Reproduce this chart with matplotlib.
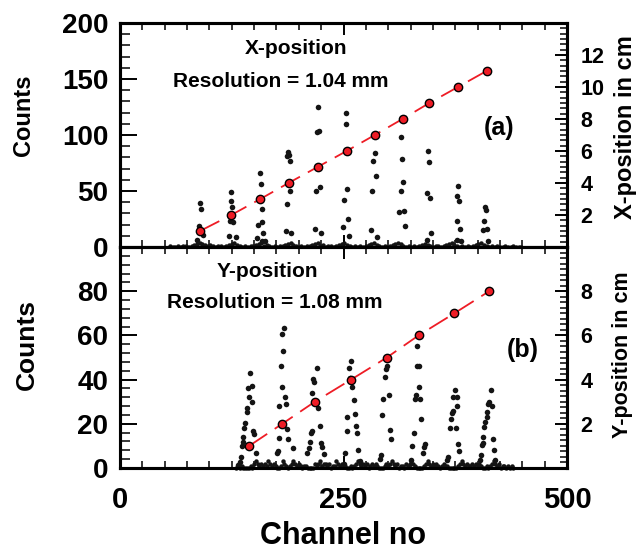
import numpy as np
import matplotlib
matplotlib.use("Agg")
import matplotlib.pyplot as plt
from matplotlib.ticker import MultipleLocator, FixedLocator

plt.rcParams['font.family'] = ['Liberation Sans', 'DejaVu Sans']
plt.rcParams['font.weight'] = 'bold'
plt.rcParams['axes.labelweight'] = 'bold'

# (a) X-position scan: dots of the eleven peaks (channel, counts)
x_ch = [86.5, 88.7, 89.5, 91.0, 93.0,
        121.9, 122.9, 123.8, 124.5, 125.6, 126.7, 129.8,
        153.6, 154.4, 156.6, 157.4, 158.5, 158.8, 159.2, 160.3, 162.2,
        185.3, 186.5, 187.1, 187.9, 189.0, 189.8, 190.5, 191.3,
        218.1, 219.2, 220.0, 221.1, 222.3, 223.7, 224.5,
        249.8, 250.9, 252.8, 252.8, 254.3, 255.4, 256.5,
        280.8, 282.2, 282.7, 285.2, 286.0, 287.1,
        312.4, 314.0, 314.7, 315.8, 316.9, 318.0, 318.8,
        343.1, 343.7, 344.9, 346.0, 346.8, 347.9,
        376.6, 376.6, 377.0, 378.4, 379.5, 380.3, 381.4,
        406.4, 407.2, 408.0, 409.1, 410.2, 411.6]
x_cnt = [6.3, 19, 39.6, 34.2, 11,
         9.8, 23.2, 41.3, 49.4, 36, 22, 9.2,
         8, 20, 66.3, 56, 34, 5, 22, 12.2, 5,
         14.3, 38, 81, 84.5, 82, 77, 50, 12.2,
         16.3, 50.3, 102.4, 124.7, 103.6, 53.3, 12.2,
         18.1, 42.2, 119.4, 109.6, 52, 25.3, 9.8,
         15.2, 50.3, 77, 84.2, 63.4, 9.2,
         31.3, 50.3, 98.5, 78.3, 58.3, 32.4, 19,
         6.3, 48.5, 85.7, 75.6, 44, 12.2,
         6, 23.2, 45.3, 54.5, 41.3, 16, 5,
         15.2, 23.2, 35.4, 33, 16, 5]
# baseline counts, one digit every 3 channels from channel 56
x_base = ("1001011012" "3432121011" "0123421010" "1123412101"
          "0112342101" "0112341201" "1012342101" "0101234210"
          "1012343101" "0101232101" "1012342101" "0101234210"
          "101001001000")
x_cal_ch = [89.5, 124.5, 157, 188.5, 221, 253.5, 285, 316, 346, 378, 410]
x_cal_cm = [1, 2, 3, 4, 5, 6, 7, 8, 9, 10, 11]

# (b) Y-position scan
y_ch = [132.3, 134.2, 135.3, 136.5, 137.2, 137.9, 139.0, 140.2, 141.7, 142.4,
        143.5, 144.3, 145.4, 147.3, 147.7, 149.1, 149.9, 152.1,
        175.6, 176.4, 177.9, 178.2, 179.8, 180.9, 181.5, 182.7, 183.7, 184.6,
        185.3, 186.5, 188.3, 193.2,
        209.5, 211.4, 212.5, 213.3, 214.4, 215.1, 216.2, 217.3, 220.0, 221.8,
        223.4, 224.8, 226.3, 228.5,
        250.0, 251.7, 253.6, 253.6, 256.5, 257.3, 258.0, 259.5, 261.7, 262.9,
        264.0, 264.8, 266.5, 268.0,
        290.8, 292.0, 293.0, 293.8, 296.4, 297.5, 299.0, 301.2, 302.0, 302.8,
        325.2, 326.3, 328.9, 330.0, 331.1, 331.9, 332.6, 334.5, 334.8, 335.6,
        336.4, 338.6, 340.0, 341.2,
        366.1, 367.2, 369.1, 369.9, 371.0, 372.1, 372.8, 374.7, 375.5, 376.6,
        377.3, 378.4, 379.5,
        402.5, 403.5, 404.6, 405.7, 406.4, 407.5, 408.3, 410.2, 410.9, 412.0,
        413.1, 414.7, 415.9, 416.9, 418.3, 419.5]
y_cnt = [1.4, 2.9, 5.1, 10, 11.9, 13.9, 18, 20.2, 27, 25.2,
         36.3, 32.3, 43.1, 37.1, 30, 16.9, 15.4, 6.9,
         6.7, 7.7, 13.4, 28, 46.2, 36.8, 60.5, 53, 63.2, 32,
         28.8, 17.5, 13, 8.9,
         6.6, 8.9, 11.9, 15.7, 16.9, 34.1, 40.1, 39, 45.1, 27,
         19, 11.2, 9.6, 6.3,
         2, 6.6, 16.9, 22.9, 45.1, 40.6, 48.4, 36.8, 30.8, 24.4,
         19.1, 15.7, 8.1, 3,
         3.9, 5.9, 24, 31.1, 41.3, 44.7, 46.2, 33, 17.2, 13,
         3.6, 10, 16, 31.1, 33, 46.2, 55.2, 46.2, 36.8, 31.1,
         22, 6.9, 9.4, 10.9,
         3.6, 5.1, 18, 22, 25, 25.9, 32, 35.3, 18, 28,
         32, 10.9, 7.8,
         3.6, 5.9, 10.4, 11.2, 14.2, 18.7, 21, 22.9, 25.5, 29,
         30, 35.3, 28, 13, 8.1, 3.6]
# baseline counts, one digit every 2 channels from channel 130
y_base = ("0101000010" "2321212132" "1210013210" "1232121011"
          "0000212312" "2120113212" "1100101232" "1212012121"
          "0001212321" "2011021232" "1000012321" "2121012110"
          "0000123212" "1121212100" "1012321201" "101010")
y_cal_ch = [144.5, 181.5, 218, 258.5, 298.5, 334, 374, 413]
y_cal_cm = [1, 2, 3, 4, 5, 6, 7, 8]

DOT = '#141414'
RED = '#ee1c25'


def style_panel(ax, ymax, ymajor, yminor):
    ax.set_xlim(0, 500)
    ax.set_ylim(0, ymax)
    for s in ax.spines.values():
        s.set_linewidth(2.2)
    ax.xaxis.set_major_locator(MultipleLocator(250))
    ax.xaxis.set_minor_locator(MultipleLocator(25))
    ax.yaxis.set_major_locator(FixedLocator(ymajor))
    ax.yaxis.set_minor_locator(MultipleLocator(yminor))
    ax.tick_params(axis='x', which='both', direction='in', top=True,
                   bottom=True, labelsize=21, pad=13)
    ax.tick_params(axis='x', which='major', length=8.5, width=1.4)
    ax.tick_params(axis='x', which='minor', length=5, width=1.1)
    ax.tick_params(axis='y', which='both', direction='in', left=True,
                   right=False, labelsize=20, pad=8.5)
    ax.tick_params(axis='y', which='major', length=12, width=1.4)
    ax.tick_params(axis='y', which='minor', length=7, width=1.1)


def style_right(axr, ymax, ymajor, yminor, size):
    axr.set_ylim(0, ymax)
    for s in axr.spines.values():
        s.set_linewidth(2.2)
    axr.yaxis.set_major_locator(FixedLocator(ymajor))
    axr.yaxis.set_minor_locator(MultipleLocator(yminor))
    axr.tick_params(axis='y', which='both', direction='in', right=True,
                    labelsize=size, pad=9.5)
    axr.tick_params(axis='y', which='major', length=8.5, width=1.4)
    axr.tick_params(axis='y', which='minor', length=5, width=1.1)


def draw_panel(ax, axr, ch, cnt, base, base_start, base_step, cal_ch, cal_cm):
    bch = base_start + base_step * np.arange(len(base))
    bcnt = [int(c) for c in base]
    ax.plot(bch, bcnt, 'o', color=DOT, ms=3.2, mec='none', clip_on=False)
    ax.plot(ch, cnt, 'o', color=DOT, ms=4.0, mec='none', clip_on=False)
    axr.plot(cal_ch, cal_cm, color=RED, lw=1.3, dashes=(12, 5))
    axr.plot(cal_ch, cal_cm, 'o', mfc=RED, mec='black', mew=1.0, ms=6)


fig = plt.figure(figsize=(6.36, 5.51), dpi=100)
ax1 = fig.add_axes([120 / 636, 1 - 247 / 551, 447 / 636, 224 / 551])
ax2 = fig.add_axes([120 / 636, 1 - 468 / 551, 447 / 636, 221 / 551])
ax1r = ax1.twinx()
ax2r = ax2.twinx()

style_panel(ax1, 200, [0, 50, 100, 150, 200], 10)
style_panel(ax2, 100, [0, 20, 40, 60, 80], 4)
ax1.tick_params(axis='x', labelbottom=False)
style_right(ax1r, 14, [2, 4, 6, 8, 10, 12], 1 / 3, 15.5)
style_right(ax2r, 10, [2, 4, 6, 8], 0.25, 15.5)

draw_panel(ax1, ax1r, x_ch, x_cnt, x_base, 56, 3, x_cal_ch, x_cal_cm)
draw_panel(ax2, ax2r, y_ch, y_cnt, y_base, 130, 2, y_cal_ch, y_cal_cm)

ax1.set_ylabel('Counts', fontsize=17, va='center')
ax1.yaxis.set_label_coords(-0.217, 0.589)
ax2.set_ylabel('Counts', fontsize=19, va='center')
ax2.yaxis.set_label_coords(-0.208, 0.561)
ax1r.set_ylabel('X-position in cm', fontsize=17, va='center')
ax1r.yaxis.set_label_coords(1.13, 0.536)
ax2r.set_ylabel('Y-position in cm', fontsize=15.5, va='center')
ax2r.yaxis.set_label_coords(1.125, 0.511)
ax2.set_xlabel('Channel no', fontsize=22, va='center')
ax2.xaxis.set_label_coords(0.5, -0.308)

ax1.text(0.394, 0.888, 'X-position', transform=ax1.transAxes,
         ha='center', va='center', fontsize=15)
ax1.text(0.36, 0.737, 'Resolution = 1.04 mm', transform=ax1.transAxes,
         ha='center', va='center', fontsize=15)
ax1.text(0.848, 0.531, '(a)', transform=ax1.transAxes,
         ha='center', va='center', fontsize=18)
ax2.text(0.329, 0.887, 'Y-position', transform=ax2.transAxes,
         ha='center', va='center', fontsize=15)
ax2.text(0.347, 0.747, 'Resolution = 1.08 mm', transform=ax2.transAxes,
         ha='center', va='center', fontsize=15)
ax2.text(0.902, 0.534, '(b)', transform=ax2.transAxes,
         ha='center', va='center', fontsize=18)

fig.savefig('out.png', dpi=100)
